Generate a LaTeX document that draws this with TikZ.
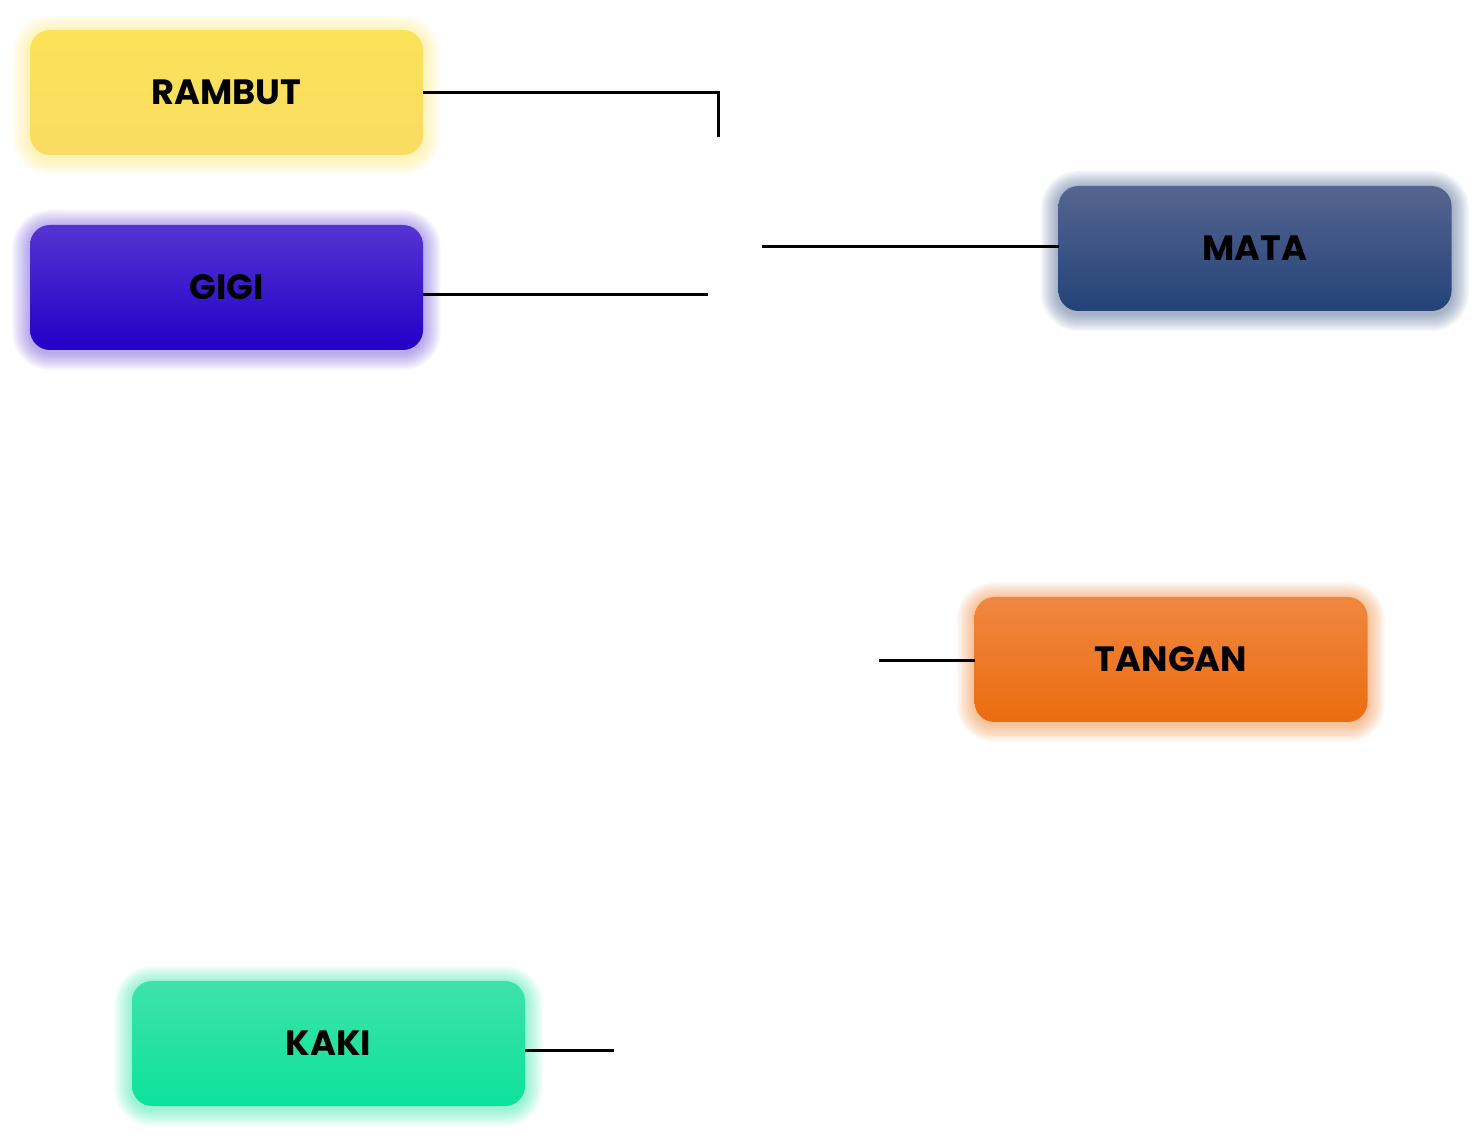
\documentclass[tikz,border=0pt]{standalone}
\usepackage{fontspec}
\setmainfont{Poppins}
\usetikzlibrary{backgrounds}

\definecolor{cfbe25a}{RGB}{252,226,88}
\definecolor{cf8d862}{RGB}{249,220,98}
\definecolor{c5533d0}{RGB}{86,52,210}
\definecolor{c2200c8}{RGB}{34,0,200}
\definecolor{c566590}{RGB}{86,101,145}
\definecolor{c234378}{RGB}{35,66,120}
\definecolor{cf08741}{RGB}{240,135,65}
\definecolor{cec6c0f}{RGB}{236,108,15}
\definecolor{c3ee2aa}{RGB}{62,226,170}
\definecolor{c0ce29b}{RGB}{12,226,155}
\def \globalscale {1.000000}

\begin{document}
\begin{tikzpicture}[y=1cm, x=1cm, yscale=\globalscale,xscale=\globalscale, every node/.append style={scale=\globalscale}, inner sep=0pt, outer sep=0pt,
  partbox/.style={rounded corners=0.4cm, minimum width=7.86cm, minimum height=2.5cm, text=black, font=\bfseries\fontsize{20}{24}\selectfont},
  link/.style={draw=black, line width=0.06cm}]
  \useasboundingbox (0, 0) rectangle (29.64, 22.8);

  \node[partbox, top color=cfbe25a, bottom color=cf8d862] (rambut) at (4.53, 20.95){RAMBUT};
  \node[partbox, top color=c5533d0, bottom color=c2200c8] (gigi) at (4.53, 17.05){GIGI};
  \node[partbox, top color=c566590, bottom color=c234378] (mata) at (25.10, 17.83){MATA};
  \node[partbox, top color=cf08741, bottom color=cec6c0f] (tangan) at (23.42, 9.61){TANGAN};
  \node[partbox, top color=c3ee2aa, bottom color=c0ce29b] (kaki) at (6.57, 1.93){KAKI};

  % glow round each box
  \begin{pgfonlayer}{background}
    \foreach \n/\c in {rambut/cfbe25a, gigi/c5533d0, mata/c234378, tangan/cec6c0f, kaki/c0ce29b}{
      \foreach \g in {1,...,10}{
        \fill[\c, opacity=0.05, rounded corners=0.4cm+\g*0.035cm] ([shift={(-\g*0.035, -\g*0.035-0.05)}]\n.south west) rectangle ([shift={(\g*0.035, \g*0.035-0.05)}]\n.north east);
      }
    }
  \end{pgfonlayer}

  \coordinate (rambutend) at (14.36, 20.06);
  \coordinate (gigiend) at (14.16, 16.90);
  \coordinate (mataend) at (15.24, 17.86);
  \coordinate (tanganend) at (17.58, 9.58);
  \coordinate (kakiend) at (12.28, 1.78);

  \path[link] (rambut.east) -| (rambutend);
  \path[link] (gigi.east |- gigiend) -- (gigiend);
  \path[link] (mataend) -- (mata.west |- mataend);
  \path[link] (tanganend) -- (tangan.west |- tanganend);
  \path[link] (kaki.east |- kakiend) -- (kakiend);

\end{tikzpicture}
\end{document}
